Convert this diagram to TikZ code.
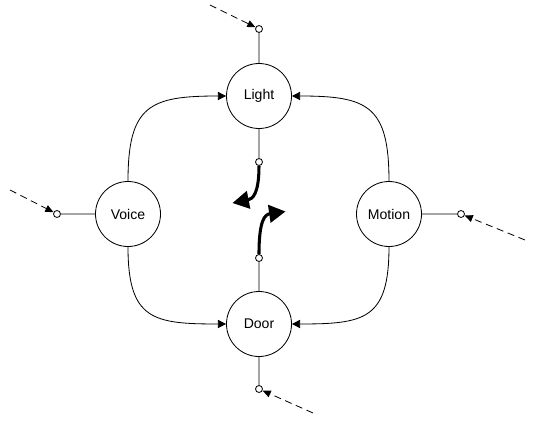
\documentclass[tikz,border=0pt]{standalone}
\usepackage{fontspec}
\setmainfont{Liberation Sans}
\usetikzlibrary{arrows.meta}
\begin{document}
\begin{tikzpicture}[scale=0.15, line width=0.7pt,
  state/.style={draw, circle, minimum size=1.95cm, inner sep=0pt, font=\fontsize{12}{14}\selectfont},
  port/.style={draw, circle, fill=white, minimum size=0.21cm, inner sep=0pt},
  link/.style={-{Triangle[length=7pt,width=7pt]}, looseness=1.5},
  feed/.style={dash pattern=on 6pt off 4pt, -{Triangle[length=7pt,width=6pt]}},
  turn/.style={line width=2.6pt, -{Triangle[length=14pt,width=15pt]}}]
\useasboundingbox (0,0) rectangle (106.8,-84.2);
% the four sensors
\node[state] (L) at (51.8,-19.2) {Light};
\node[state] (V) at (25.6,-42.8) {Voice};
\node[state] (M) at (77.8,-42.8) {Motion};
\node[state] (D) at (51.8,-64.8) {Door};
% ports
\node[port] (lt) at (51.8,-5.8) {};
\node[port] (lb) at (51.8,-32.4) {};
\node[port] (vp) at (11.4,-42.8) {};
\node[port] (mp) at (92.2,-42.8) {};
\node[port] (dt) at (51.8,-51.6) {};
\node[port] (db) at (51.8,-77.8) {};
\draw (L) -- (lt);
\draw (L) -- (lb);
\draw (V) -- (vp);
\draw (M) -- (mp);
\draw (D) -- (dt);
\draw (D) -- (db);
% incoming dashed feeds
\coordinate (lin) at (42,-1);
\coordinate (vin) at (2,-38);
\coordinate (min) at (105,-48);
\coordinate (din) at (62.6,-82.6);
\draw[feed] (lin) -- (lt);
\draw[feed] (vin) -- (vp);
\draw[feed] (min) -- (mp);
\draw[feed] (din) -- (db);
% links between sensors
\draw[link] (V) to[out=90, in=180] (L);
\draw[link] (M) to[out=90, in=0] (L);
\draw[link] (V) to[out=-90, in=180] (D);
\draw[link] (M) to[out=-90, in=0] (D);
% bold turning arrows
\coordinate (tl) at (46.5,-40.6);
\coordinate (tr) at (57.1,-42.3);
\draw[turn] (lb) .. controls (51.8,-38.6) and (50.6,-39.8) .. (tl);
\draw[turn] (dt) .. controls (51.8,-44.2) and (52.9,-42.9) .. (tr);
\end{tikzpicture}
\end{document}
